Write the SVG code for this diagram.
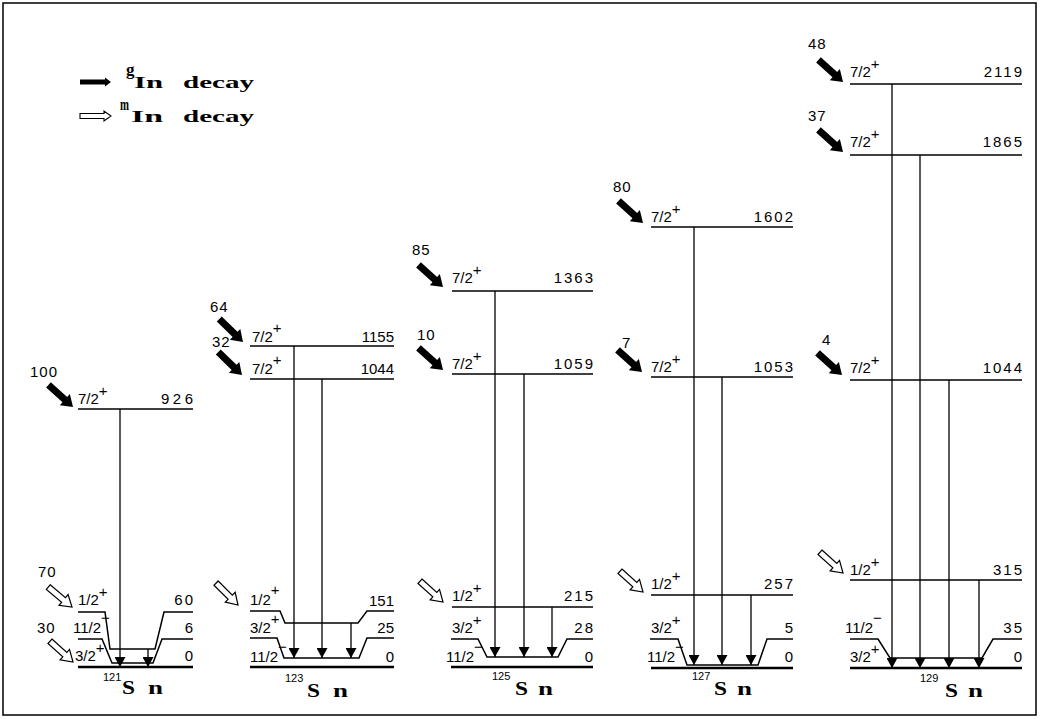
<svg xmlns="http://www.w3.org/2000/svg" width="1040" height="719" viewBox="0 0 1040 719">
<defs>
<style>
.lv{fill:none;stroke:#000;stroke-width:1.5}
.gd{fill:none;stroke:#000;stroke-width:2.6}
.tr{fill:none;stroke:#000;stroke-width:1.3;marker-end:url(#tri)}
.t{font-family:"Liberation Sans",Arial,sans-serif;font-size:15px;fill:#000}
.r{text-anchor:end;letter-spacing:2px}
.r0{text-anchor:end}
.iso{font-family:"Liberation Serif","Times New Roman",serif;font-weight:bold;font-size:18px;fill:#000}
.sup{font-family:"Liberation Sans",Arial,sans-serif;font-size:11px;fill:#000}
.leg{font-family:"Liberation Serif","Times New Roman",serif;font-weight:bold;font-size:17px;fill:#000}
.ct{font-family:"Liberation Sans",Arial,sans-serif;font-size:15px;letter-spacing:1px;fill:#000}
</style>
<marker id="tri" viewBox="0 -5.5 10 11" refX="10" refY="0" markerWidth="10" markerHeight="11" markerUnits="userSpaceOnUse" orient="auto"><path d="M0,-5.5 L10,0 L0,5.5 Z" fill="#000"/></marker>
<path id="fa" d="M-33,-3.5 H-11 V-7.5 L0,0 L-11,7.5 V3.5 H-33 Z" fill="#000"/>
<path id="oa" d="M-31,-3 H-11 V-7 L0,0 L-11,7 V3 H-31 Z" fill="#fff" stroke="#000" stroke-width="1.2"/>
</defs>
<rect x="0" y="0" width="1040" height="719" fill="#fff"/>
<rect x="3" y="3" width="1033" height="712" fill="none" stroke="#000" stroke-width="1.5"/>

<g id="legend">
<path d="M80,79.5 H105 V77.5 L111,82 L105,86.5 V84.5 H80 Z" fill="#000"/>
<path d="M80,113.5 H104 V111 L111,116 L104,121 V118.5 H80 Z" fill="#fff" stroke="#000" stroke-width="1.1"/>
<text class="leg" x="126" y="75" font-size="13">g</text>
<text class="leg" x="134" y="88" textLength="29" lengthAdjust="spacingAndGlyphs">In</text>
<text class="leg" x="183" y="88" textLength="71" lengthAdjust="spacingAndGlyphs">decay</text>
<text class="leg" x="120" y="110" font-size="13" textLength="9" lengthAdjust="spacingAndGlyphs">m</text>
<text class="leg" x="131" y="122" textLength="32" lengthAdjust="spacingAndGlyphs">In</text>
<text class="leg" x="183" y="122" textLength="71" lengthAdjust="spacingAndGlyphs">decay</text>
</g>

<!-- 121Sn -->
<g id="sn121-926"><path class="lv" d="M78,409H193"/><text class="t" x="78" y="404">7/2<tspan dy="-8">+</tspan></text><text class="t r0" x="196.5" y="404" style="letter-spacing:3.5px">926</text></g>
<g id="sn121-60"><path class="lv" d="M78,612H105L110,649H155L164,612H193"/><text class="t" x="78" y="605">1/2<tspan dy="-8">+</tspan></text><text class="t r" x="195" y="605">60</text></g>
<g id="sn121-6"><path class="lv" d="M78,639H102L112,663H153L162,639H193"/><text class="t" x="73" y="633">11/2<tspan dy="-10">−</tspan></text><text class="t r" x="195" y="633">6</text></g>
<g id="sn121-0"><path class="gd" d="M78,667H193"/><text class="t" x="75" y="661">3/2<tspan dy="-8">+</tspan></text><text class="t r" x="195" y="661">0</text></g>
<g id="sn121-label"><text class="sup" x="103" y="681">121</text><text class="iso" x="122" y="694" textLength="13" lengthAdjust="spacingAndGlyphs">S</text><text class="iso" x="148" y="694" textLength="15" lengthAdjust="spacingAndGlyphs">n</text></g>

<!-- 123Sn -->
<g id="sn123-1155"><path class="lv" d="M250,346H394"/><text class="t" x="252" y="342">7/2<tspan dy="-9">+</tspan></text><text class="t r0" x="394" y="342">1155</text></g>
<g id="sn123-1044"><path class="lv" d="M250,379H394"/><text class="t" x="252" y="374">7/2<tspan dy="-9">+</tspan></text><text class="t r0" x="394" y="374">1044</text></g>
<g id="sn123-151"><path class="lv" d="M250,611H280L285,623H358L367,611H394"/><text class="t" x="250" y="605">1/2<tspan dy="-10">+</tspan></text><text class="t r0" x="394" y="606">151</text></g>
<g id="sn123-25"><path class="lv" d="M250,638H277L284,658H359L367,638H394"/><text class="t" x="250" y="633">3/2<tspan dy="-9">+</tspan></text><text class="t r0" x="394" y="633">25</text></g>
<g id="sn123-0"><path class="gd" d="M250,667H394"/><text class="t" x="250" y="662">11/2<tspan dy="-10">−</tspan></text><text class="t r0" x="394" y="662">0</text></g>
<g id="sn123-label"><text class="sup" x="285" y="682">123</text><text class="iso" x="307" y="697" textLength="13" lengthAdjust="spacingAndGlyphs">S</text><text class="iso" x="333" y="697" textLength="15" lengthAdjust="spacingAndGlyphs">n</text></g>

<!-- 125Sn -->
<g id="sn125-1363"><path class="lv" d="M452,291H593"/><text class="t" x="452" y="283">7/2<tspan dy="-8">+</tspan></text><text class="t r" x="595" y="283">1363</text></g>
<g id="sn125-1059"><path class="lv" d="M452,374H593"/><text class="t" x="452" y="369">7/2<tspan dy="-8">+</tspan></text><text class="t r" x="595" y="369">1059</text></g>
<g id="sn125-215"><path class="lv" d="M452,607H593"/><text class="t" x="452" y="601">1/2<tspan dy="-8">+</tspan></text><text class="t r" x="595" y="601">215</text></g>
<g id="sn125-28"><path class="lv" d="M451,639H478L487,657H558L567,639H593"/><text class="t" x="452" y="633">3/2<tspan dy="-8">+</tspan></text><text class="t r" x="595" y="633">28</text></g>
<g id="sn125-0"><path class="gd" d="M451,667H593"/><text class="t" x="446" y="662">11/2<tspan dy="-10">−</tspan></text><text class="t r" x="595" y="662">0</text></g>
<g id="sn125-label"><text class="sup" x="492" y="680">125</text><text class="iso" x="515" y="695" textLength="13" lengthAdjust="spacingAndGlyphs">S</text><text class="iso" x="538" y="695" textLength="15" lengthAdjust="spacingAndGlyphs">n</text></g>

<!-- 127Sn -->
<g id="sn127-1602"><path class="lv" d="M651,227H793"/><text class="t" x="651" y="222">7/2<tspan dy="-8">+</tspan></text><text class="t r" x="795" y="222">1602</text></g>
<g id="sn127-1053"><path class="lv" d="M651,377H793"/><text class="t" x="651" y="372">7/2<tspan dy="-8">+</tspan></text><text class="t r" x="795" y="372">1053</text></g>
<g id="sn127-257"><path class="lv" d="M651,595H793"/><text class="t" x="651" y="589">1/2<tspan dy="-8">+</tspan></text><text class="t r" x="795" y="589">257</text></g>
<g id="sn127-5"><path class="lv" d="M650,639H678L687,665H758L767,639H793"/><text class="t" x="651" y="633">3/2<tspan dy="-8">+</tspan></text><text class="t r" x="795" y="633">5</text></g>
<g id="sn127-0"><path class="gd" d="M651,668H793"/><text class="t" x="647" y="662">11/2<tspan dy="-10">−</tspan></text><text class="t r" x="795" y="662">0</text></g>
<g id="sn127-label"><text class="sup" x="692" y="680">127</text><text class="iso" x="714" y="695" textLength="13" lengthAdjust="spacingAndGlyphs">S</text><text class="iso" x="737" y="695" textLength="15" lengthAdjust="spacingAndGlyphs">n</text></g>

<!-- 129Sn -->
<g id="sn129-2119"><path class="lv" d="M850,84H1022"/><text class="t" x="850" y="77">7/2<tspan dy="-8">+</tspan></text><text class="t r" x="1024" y="77">2119</text></g>
<g id="sn129-1865"><path class="lv" d="M850,155H1022"/><text class="t" x="850" y="147">7/2<tspan dy="-8">+</tspan></text><text class="t r" x="1024" y="147">1865</text></g>
<g id="sn129-1044"><path class="lv" d="M850,380H1022"/><text class="t" x="850" y="373">7/2<tspan dy="-8">+</tspan></text><text class="t r" x="1024" y="373">1044</text></g>
<g id="sn129-315"><path class="lv" d="M850,580H1022"/><text class="t" x="850" y="575">1/2<tspan dy="-8">+</tspan></text><text class="t r" x="1024" y="575">315</text></g>
<g id="sn129-35"><path class="lv" d="M850,639H878L890,658H982L993,639H1022"/><text class="t" x="845" y="633">11/2<tspan dy="-10">−</tspan></text><text class="t r" x="1024" y="633">35</text></g>
<g id="sn129-0"><path class="gd" d="M850,668H1022"/><text class="t" x="850" y="662">3/2<tspan dy="-8">+</tspan></text><text class="t r" x="1024" y="662">0</text></g>
<g id="sn129-label"><text class="sup" x="920" y="682">129</text><text class="iso" x="945" y="697" textLength="13" lengthAdjust="spacingAndGlyphs">S</text><text class="iso" x="968" y="697" textLength="15" lengthAdjust="spacingAndGlyphs">n</text></g>

<g id="connectors">
<path class="tr" d="M120,409V667"/>
<path class="tr" d="M148,649V667"/>
<path class="tr" d="M294,346V658"/>
<path class="tr" d="M322,379V658"/>
<path class="tr" d="M351,623V658"/>
<path class="tr" d="M495,291V657"/>
<path class="tr" d="M524,374V657"/>
<path class="tr" d="M552,607V657"/>
<path class="tr" d="M694,227V665"/>
<path class="tr" d="M722,377V665"/>
<path class="tr" d="M751,595V665"/>
<path class="tr" d="M892,84V668"/>
<path class="tr" d="M920,155V668"/>
<path class="tr" d="M949,380V668"/>
<path class="tr" d="M979,580V668"/>
<use href="#fa" transform="translate(73,407) rotate(42)"/>
<use href="#oa" transform="translate(72,607) rotate(40)"/>
<use href="#oa" transform="translate(73,662) rotate(42)"/>
<use href="#fa" transform="translate(243,342) rotate(44)"/>
<use href="#fa" transform="translate(242,375) rotate(44)"/>
<use href="#oa" transform="translate(238,605) rotate(45)"/>
<use href="#fa" transform="translate(443,287) rotate(42)"/>
<use href="#fa" transform="translate(443,370) rotate(42)"/>
<use href="#oa" transform="translate(443,602) rotate(42)"/>
<use href="#fa" transform="translate(643,223) rotate(42)"/>
<use href="#fa" transform="translate(642,372) rotate(42)"/>
<use href="#oa" transform="translate(643,592) rotate(42)"/>
<use href="#fa" transform="translate(843,82) rotate(42)"/>
<use href="#fa" transform="translate(843,152) rotate(42)"/>
<use href="#fa" transform="translate(842,375) rotate(42)"/>
<use href="#oa" transform="translate(843,573) rotate(42)"/>
<text class="ct" x="30" y="377">100</text>
<text class="ct" x="38" y="577">70</text>
<text class="ct" x="37" y="633">30</text>
<text class="ct" x="210" y="312">64</text>
<text class="ct" x="212" y="347">32</text>
<text class="ct" x="412" y="255">85</text>
<text class="ct" x="417" y="340">10</text>
<text class="ct" x="613" y="192">80</text>
<text class="ct" x="622" y="348">7</text>
<text class="ct" x="808" y="49">48</text>
<text class="ct" x="808" y="121">37</text>
<text class="ct" x="822" y="345">4</text>
</g>
</svg>
